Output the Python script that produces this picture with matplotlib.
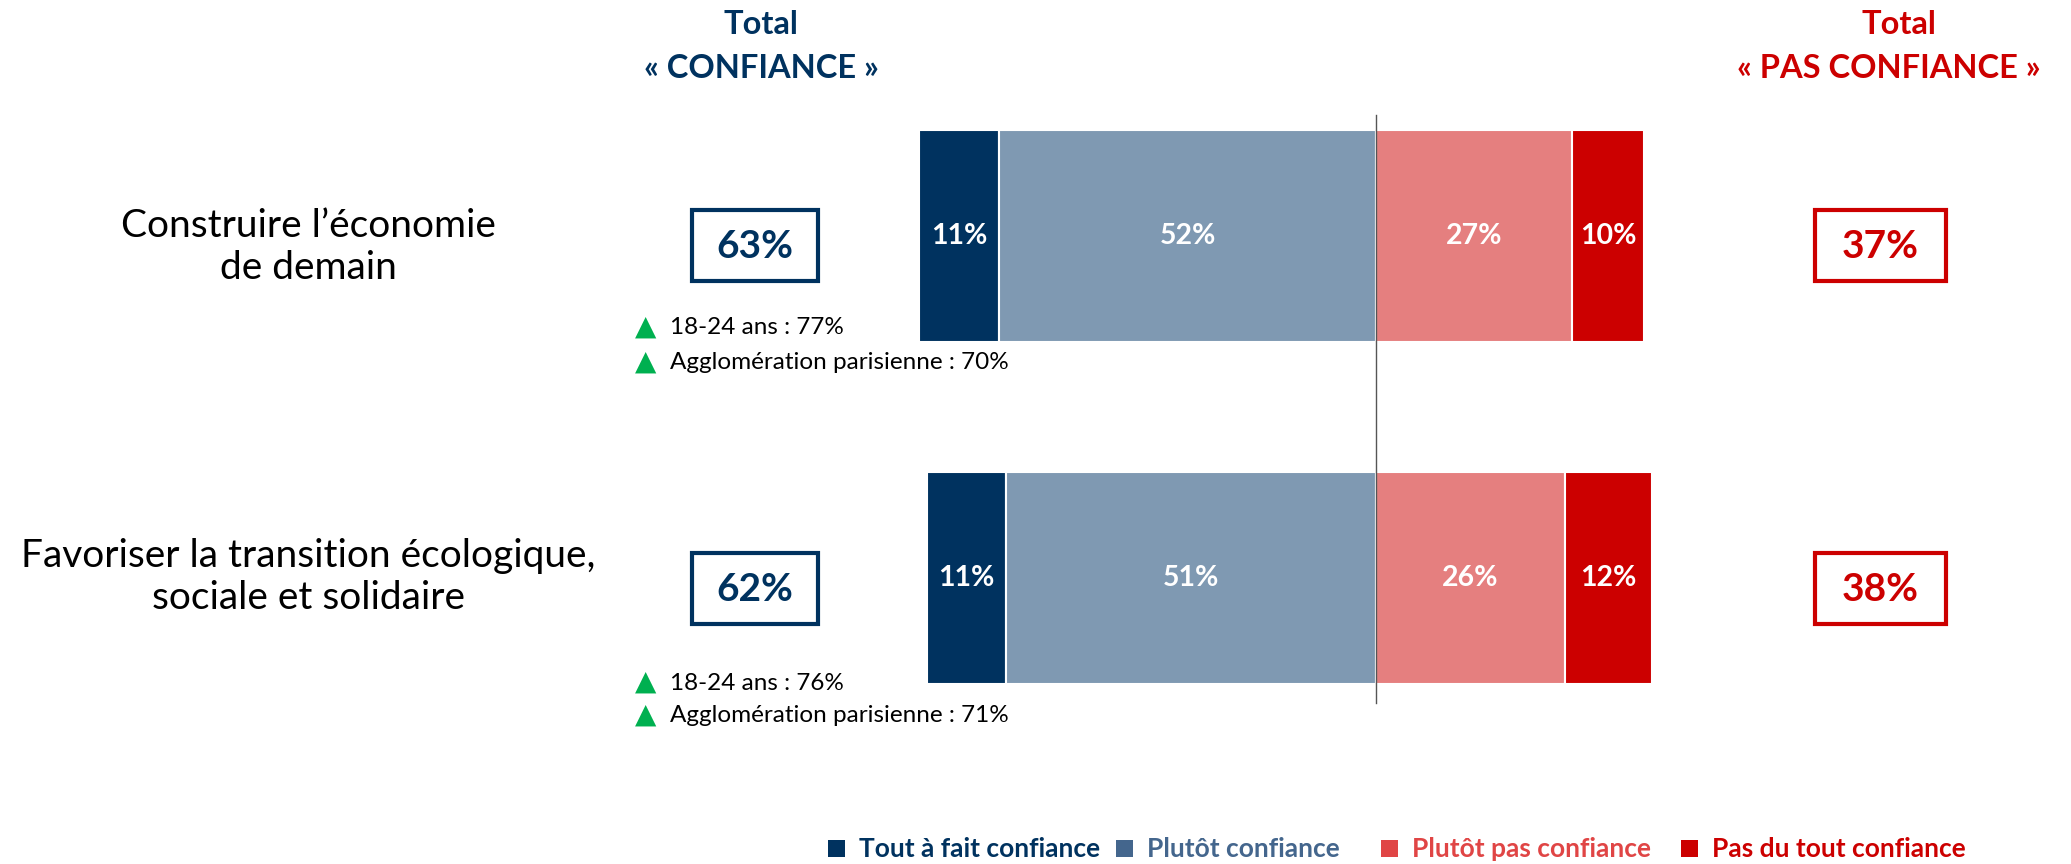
# PARAMETER
W, H = 2071, 864
FONT = 'Lato'

# DATA
categories = ['Construire l\u2019économie\nde demain',
              'Favoriser la transition écologique,\nsociale et solidaire']
tout_a_fait = [11, 11]
plutot = [52, 51]
plutot_pas = [27, 26]
pas_du_tout = [10, 12]
total_confiance = [63, 62]
total_pas_confiance = [37, 38]
subgroups = [['18-24 ans : 77%', 'Agglomération parisienne : 70%'],
             ['18-24 ans : 76%', 'Agglomération parisienne : 71%']]
legend_labels = ['Tout à fait confiance', 'Plutôt confiance',
                 'Plutôt pas confiance', 'Pas du tout confiance']


# LIBRARY IMPORT
import matplotlib
matplotlib.use('Agg')
import matplotlib.pyplot as plt
from matplotlib.patches import Rectangle
import numpy as np

plt.rcParams['font.family'] = [FONT, 'DejaVu Sans']

navy = '#00325F'
grey_blue = '#7F99B2'
pink = '#E57F7F'
red = '#CC0000'
legend_mid = '#44668D'
legend_pink = '#E04545'
green = '#00B050'


# FUNCTION
# pixel (from top-left) to figure fraction
def px(x, y):
    return x / W, 1 - y / H


fig = plt.figure(figsize=(W / 100, H / 100), dpi=100)

# bar axes: zero line at x=1376 px, 7.25 px per %
x_lo, x_hi = -70, 60
ax_left = 1376 - (-x_lo) * 7.25
ax_w = (x_hi - x_lo) * 7.25
ax = fig.add_axes([ax_left / W, (H - 749) / H, ax_w / W, 684 / H])
ax.set_xlim(x_lo, x_hi)
ax.set_ylim(1.5, -0.5)
ax.axis('off')

y = np.arange(len(categories))
conf = np.array(total_confiance)
bh = 0.62
ax.barh(y, tout_a_fait, left=-conf, height=bh, color=navy, edgecolor='white', linewidth=1.5)
ax.barh(y, plutot, left=-conf + np.array(tout_a_fait), height=bh, color=grey_blue,
        edgecolor='white', linewidth=1.5)
ax.barh(y, plutot_pas, left=0, height=bh, color=pink, edgecolor='white', linewidth=1.5)
ax.barh(y, pas_du_tout, left=plutot_pas, height=bh, color=red, edgecolor='white', linewidth=1.5)
ax.axvline(0, ymin=0.067, ymax=0.927, color='#555555', linewidth=1)

for i in range(len(categories)):
    segs = [(-conf[i], tout_a_fait[i]),
            (-conf[i] + tout_a_fait[i], plutot[i]),
            (0, plutot_pas[i]),
            (plutot_pas[i], pas_du_tout[i])]
    for left, w in segs:
        ax.text(left + w / 2, y[i], '%d%%' % w, color='white', fontsize=20.5,
                fontweight='bold', ha='center', va='center')

# headers
fig.text(*px(761, 24), 'Total', color=navy, fontsize=23.5, fontweight='bold', ha='center', va='center')
fig.text(*px(761, 69), '« CONFIANCE »', color=navy, fontsize=23.5, fontweight='bold', ha='center', va='center')
fig.text(*px(1899, 24), 'Total', color=red, fontsize=23.5, fontweight='bold', ha='center', va='center')
fig.text(*px(1889, 69), '« PAS CONFIANCE »', color=red, fontsize=23.5, fontweight='bold', ha='center', va='center')

label_y = [247, 577]
box_top = [210, 553]
box_h = 71
sub_y = [[328, 363], [683, 716]]
for i, cat in enumerate(categories):
    fig.text(*px(308, label_y[i]), cat, fontsize=28, ha='center', va='center', color='black',
             linespacing=1.2)
    # total boxes
    bt = box_top[i]
    fig.patches.append(Rectangle(px(692, bt + box_h), 126 / W, box_h / H, transform=fig.transFigure,
                                 fill=False, edgecolor=navy, linewidth=3))
    fig.text(*px(755, bt + box_h / 2 + 1), '%d%%' % total_confiance[i], color=navy, fontsize=28,
             fontweight='bold', ha='center', va='center')
    fig.patches.append(Rectangle(px(1815, bt + box_h), 131 / W, box_h / H, transform=fig.transFigure,
                                 fill=False, edgecolor=red, linewidth=3))
    fig.text(*px(1880, bt + box_h / 2 + 1), '%d%%' % total_pas_confiance[i], color=red, fontsize=28,
             fontweight='bold', ha='center', va='center')
    # subgroups
    for j, s in enumerate(subgroups[i]):
        sy = sub_y[i][j]
        fig.text(*px(646, sy - 1), '\u25B2', color=green, fontsize=20, ha='center', va='center',
                 family='DejaVu Sans')
        fig.text(*px(670, sy), s, color='black', fontsize=17.5, ha='left', va='center')

# legend
leg_colors = [navy, legend_mid, legend_pink, red]
sq_x = [836, 1124, 1389, 1689]
for c, sx, lab in zip(leg_colors, sq_x, legend_labels):
    fig.patches.append(Rectangle(px(sx - 8, 857), 17 / W, 17 / H, transform=fig.transFigure,
                                 facecolor=c, edgecolor='none'))
    fig.text(*px(sx + 23, 849), lab, color=c, fontsize=19, fontweight='bold', ha='left', va='center')

plt.savefig('out.png', dpi=100)
